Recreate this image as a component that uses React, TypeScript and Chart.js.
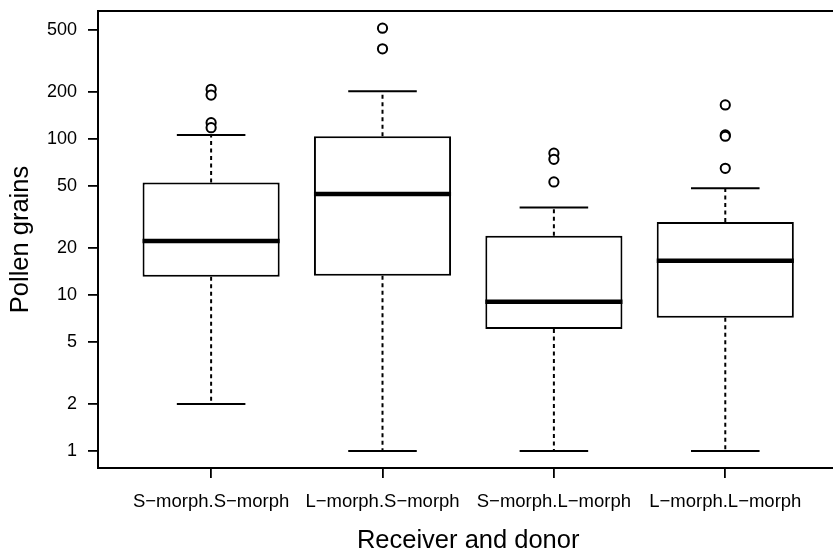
import React, { useEffect, useRef } from "react";
import { Chart, registerables } from "chart.js";

Chart.register(...registerables);

// ---- data ----
const categories = ["S−morph.S−morph", "L−morph.S−morph", "S−morph.L−morph", "L−morph.L−morph"];
const whiskerLow = [2, 1, 1, 1];
const q1 = [13.1, 13.3, 6.05, 7.15];
const median = [22.2, 44.4, 9.05, 16.6];
const q3 = [52.5, 104, 24, 29.4];
const whiskerHigh = [106, 202, 36.3, 48.3];
const outliers1 = [208, 191, 127, 118];
const outliers2 = [512, 378];
const outliers3 = [81, 74, 53];
const outliers4 = [165, 106, 104, 64.8];
const outlierGroups = [outliers1, outliers2, outliers3, outliers4];
const yTicks = [1, 2, 5, 10, 20, 50, 100, 200, 500];
const yTitle = "Pollen grains";
const xTitle = "Receiver and donor";

const boxParts = {
  id: "boxParts",
  afterDatasetsDraw(chart: any) {
    const { ctx, chartArea } = chart;
    const x = chart.scales.x;
    const y = chart.scales.y;
    const meta = chart.getDatasetMeta(0);
    ctx.save();
    ctx.strokeStyle = "#000";
    categories.forEach((_, i) => {
      const bar: any = meta.data[i];
      const cx = x.getPixelForValue(i + 1);
      const hw = bar.width / 2;
      const cap = hw / 2;
      ctx.lineWidth = 2;
      ctx.setLineDash([4, 3.5]);
      ctx.beginPath();
      ctx.moveTo(cx, y.getPixelForValue(q3[i]));
      ctx.lineTo(cx, y.getPixelForValue(whiskerHigh[i]));
      ctx.moveTo(cx, y.getPixelForValue(q1[i]));
      ctx.lineTo(cx, y.getPixelForValue(whiskerLow[i]));
      ctx.stroke();
      ctx.setLineDash([]);
      ctx.lineWidth = 2;
      ctx.beginPath();
      const yh = y.getPixelForValue(whiskerHigh[i]);
      const yl = y.getPixelForValue(whiskerLow[i]);
      ctx.moveTo(cx - cap, yh);
      ctx.lineTo(cx + cap, yh);
      ctx.moveTo(cx - cap, yl);
      ctx.lineTo(cx + cap, yl);
      ctx.stroke();
      ctx.lineWidth = 4.5;
      ctx.beginPath();
      const ym = y.getPixelForValue(median[i]);
      ctx.moveTo(cx - hw, ym);
      ctx.lineTo(cx + hw, ym);
      ctx.stroke();
    });
    // top and right frame lines
    ctx.lineWidth = 2;
    ctx.beginPath();
    ctx.moveTo(chartArea.left - 1, chartArea.top);
    ctx.lineTo(chartArea.right, chartArea.top);
    ctx.lineTo(chartArea.right, chartArea.bottom);
    ctx.stroke();
    ctx.restore();
  },
};

export default function App() {
  const ref = useRef<HTMLCanvasElement | null>(null);
  useEffect(() => {
    if (!ref.current) return;
    Chart.defaults.font.family = '"Liberation Sans", Arial, sans-serif';
    Chart.defaults.color = "#000";
    const outlierData: any[] = [];
    outlierGroups.forEach((g, i) => g.forEach((v) => outlierData.push({ x: i + 1, y: v })));
    const chart = new Chart(ref.current, {
      type: "bar",
      data: {
        datasets: [
          {
            type: "bar",
            data: categories.map((_, i) => ({ x: i + 1, y: [q1[i], q3[i]] })) as any,
            backgroundColor: "#fff",
            borderColor: "#000",
            borderWidth: 2,
            borderSkipped: false,
            categoryPercentage: 1,
            barPercentage: 0.8,
          } as any,
          {
            type: "scatter",
            data: outlierData,
            pointStyle: "circle",
            pointRadius: 4.6,
            pointBorderWidth: 2,
            pointBackgroundColor: "#fff",
            borderColor: "#000",
            pointBorderColor: "#000",
            showLine: false,
          } as any,
        ],
      },
      options: {
        animation: false,
        responsive: false,
        events: [],
        layout: { padding: { left: 0, top: 11, right: 6, bottom: 0 } },
        plugins: { legend: { display: false }, tooltip: { enabled: false } },
        scales: {
          x: {
            type: "linear",
            offset: false,
            min: 0.34,
            max: 4.66,
            afterBuildTicks: (s: any) => {
              s.ticks = categories.map((_, i) => ({ value: i + 1 }));
            },
            afterFit: (s: any) => {
              s.height = 88;
              s.paddingLeft = 0;
              s.paddingRight = 0;
            },
            ticks: {
              autoSkip: false,
              maxRotation: 0,
              font: { size: 18.5 },
              color: "#000",
              padding: 13,
              callback: (v: any) => categories[Number(v) - 1] ?? "",
            },
            grid: {
              display: true,
              offset: false,
              drawOnChartArea: false,
              drawTicks: true,
              tickLength: 10,
              color: "#000",
              lineWidth: 1.8,
            },
            border: { display: true, color: "#000", width: 2 },
            title: {
              display: true,
              text: xTitle,
              font: { size: 25.5 },
              color: "#000",
              padding: { top: 0, bottom: 0 },
            },
          },
          y: {
            type: "logarithmic",
            min: 0.779,
            max: 660,
            afterBuildTicks: (s: any) => {
              s.ticks = yTicks.map((v) => ({ value: v }));
            },
            afterFit: (s: any) => {
              s.width = 98;
              s.paddingTop = 0;
              s.paddingBottom = 0;
            },
            ticks: {
              autoSkip: false,
              font: { size: 18 },
              color: "#000",
              padding: 11,
              callback: (v: any) => String(v),
            },
            grid: {
              display: true,
              drawOnChartArea: false,
              drawTicks: true,
              tickLength: 10,
              color: "#000",
              lineWidth: 1.8,
            },
            border: { display: true, color: "#000", width: 2 },
            title: {
              display: true,
              text: yTitle,
              font: { size: 25.5 },
              color: "#000",
              padding: { top: 6, bottom: 0 },
            },
          },
        },
      },
      plugins: [boxParts],
    });
    return () => chart.destroy();
  }, []);
  return (
    <div style={{ position: "fixed", left: 0, top: 0, width: 845, height: 556, background: "#fff" }}>
      <canvas ref={ref} width={845} height={556} style={{ display: "block" }} />
    </div>
  );
}
